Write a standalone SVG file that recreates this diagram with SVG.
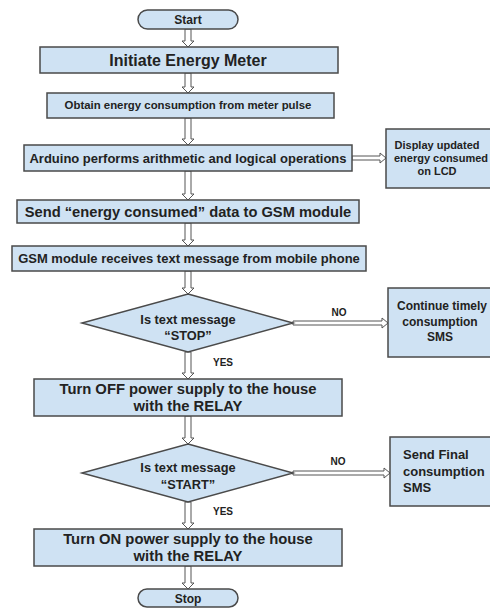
<svg xmlns="http://www.w3.org/2000/svg" width="490" height="608" viewBox="0 0 490 608">
<style>
.n{fill:#cfe2f3;stroke:#4a4a4a;stroke-width:1.5}
.a{fill:#ffffff;stroke:#555;stroke-width:1}
text{font-family:"Liberation Sans",Arial,sans-serif;font-weight:bold;fill:#222;text-anchor:middle}
.l{text-anchor:start}
</style>
<rect width="490" height="608" fill="#ffffff"/>
<g id="connectors">
<path class="a" d="M185,29 V41 H182 L188,47 L194,41 H191 V29 Z"/>
<path class="a" d="M185,73 V87 H182 L188,93 L194,87 H191 V73 Z"/>
<path class="a" d="M185,118 V139 H182 L188,145 L194,139 H191 V118 Z"/>
<path class="a" d="M352,156 H380 V153 L386,158 L380,163 V160 H352 Z"/>
<path class="a" d="M185,171 V194 H182 L188,200 L194,194 H191 V171 Z"/>
<path class="a" d="M185,223 V240 H182 L188,246 L194,240 H191 V223 Z"/>
<path class="a" d="M185,271 V288 H182 L188,294 L194,288 H191 V271 Z"/>
<path class="a" d="M293,321 H382 V318 L388,323 L382,328 V325 H293 Z"/>
<path class="a" d="M185,352 V373 H182 L188,379 L194,373 H191 V352 Z"/>
<path class="a" d="M185,416 V438 H182 L188,444 L194,438 H191 V416 Z"/>
<path class="a" d="M293,471 H384 V468 L390,473 L384,478 V475 H293 Z"/>
<path class="a" d="M185,502 V523 H182 L188,529 L194,523 H191 V502 Z"/>
<path class="a" d="M185,566 V583 H182 L188,589 L194,583 H191 V566 Z"/>
<text x="339" y="316" font-size="10">NO</text>
<text x="223" y="366" font-size="10">YES</text>
<text x="338" y="465" font-size="10">NO</text>
<text x="223" y="515" font-size="10">YES</text>
</g>
<g id="start">
<rect class="n" x="138" y="10" width="100" height="19" rx="9.5"/>
<text x="188" y="24" font-size="12">Start</text>
</g>
<g id="initiate">
<rect class="n" x="40" y="47" width="298" height="26"/>
<text x="188" y="66" font-size="16">Initiate Energy Meter</text>
</g>
<g id="obtain">
<rect class="n" x="47" y="93" width="287" height="25"/>
<text x="188" y="109" font-size="11.4">Obtain energy consumption from meter pulse</text>
</g>
<g id="arduino">
<rect class="n" x="24" y="145" width="328" height="26"/>
<text x="188" y="163" font-size="13">Arduino performs arithmetic and logical operations</text>
</g>
<g id="display">
<rect class="n" x="386" y="129" width="110" height="59"/>
<text x="437" y="149" font-size="11">Display updated</text>
<text x="441" y="162" font-size="11">energy consumed</text>
<text x="437" y="175" font-size="11">on LCD</text>
</g>
<g id="send">
<rect class="n" x="17" y="200" width="342" height="23"/>
<text x="188" y="217" font-size="14.7">Send “energy consumed” data to GSM module</text>
</g>
<g id="gsm">
<rect class="n" x="12" y="246" width="354" height="25"/>
<text x="189" y="263" font-size="13">GSM module receives text message from mobile phone</text>
</g>
<g id="stop-decision">
<polygon class="n" points="188,294 293,323 188,352 82,323"/>
<text x="188" y="324" font-size="12.8">Is text message</text>
<text x="188" y="340" font-size="12.8">“STOP”</text>
</g>
<g id="continue">
<rect class="n" x="388" y="288" width="110" height="69"/>
<text x="442" y="310" font-size="12">Continue timely</text>
<text x="440" y="326" font-size="12">consumption</text>
<text x="440" y="341" font-size="12">SMS</text>
</g>
<g id="turn-off">
<rect class="n" x="34" y="379" width="308" height="37"/>
<text x="188" y="394" font-size="14.8">Turn OFF power supply to the house</text>
<text x="188" y="411" font-size="14.8">with the RELAY</text>
</g>
<g id="start-decision">
<polygon class="n" points="188,444 293,473 188,502 82,473"/>
<text x="188" y="472" font-size="12.8">Is text message</text>
<text x="188" y="489" font-size="12.8">“START”</text>
</g>
<g id="final">
<rect class="n" x="390" y="437" width="106" height="69"/>
<text class="l" x="403" y="459" font-size="13">Send Final</text>
<text class="l" x="403" y="476" font-size="13">consumption</text>
<text class="l" x="403" y="492" font-size="13">SMS</text>
</g>
<g id="turn-on">
<rect class="n" x="34" y="529" width="308" height="37"/>
<text x="188" y="544" font-size="14.8">Turn ON power supply to the house</text>
<text x="188" y="561" font-size="14.8">with the RELAY</text>
</g>
<g id="stop">
<rect class="n" x="138" y="589" width="100" height="18" rx="9"/>
<text x="188" y="603" font-size="12">Stop</text>
</g>
</svg>
